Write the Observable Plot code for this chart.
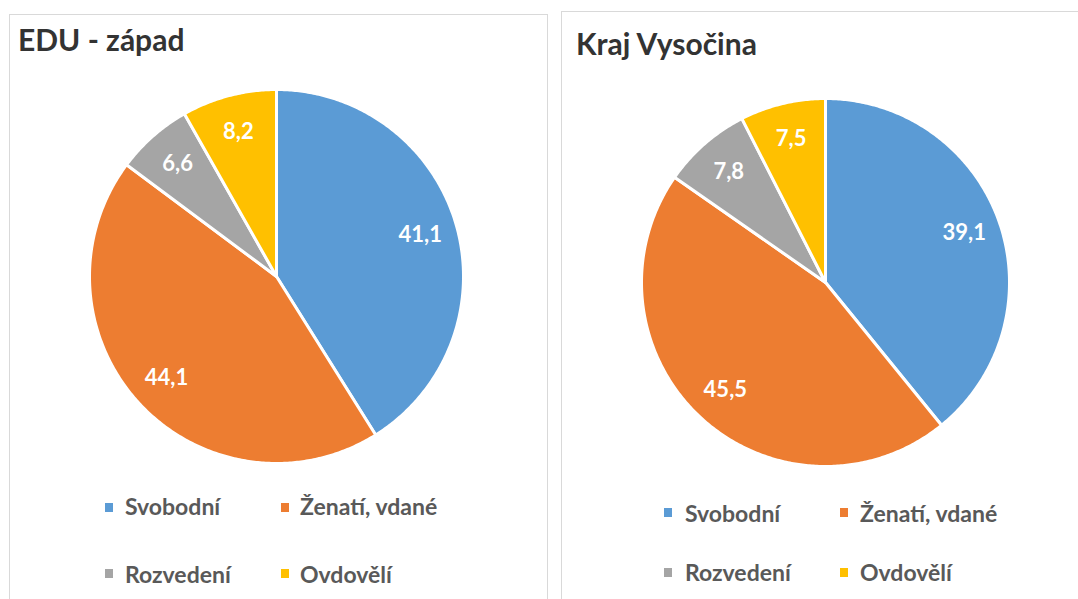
<!DOCTYPE html>
<html>
<head>
<meta charset="utf-8">
<script src="https://cdn.jsdelivr.net/npm/d3@7"></script>
<script src="https://cdn.jsdelivr.net/npm/@observablehq/plot@0.6"></script>
<style>
  html, body { margin: 0; padding: 0; background: #fff; }
  body { width: 1078px; height: 599px; position: relative; overflow: hidden; font-family: Lato, "Open Sans", sans-serif; }
  .panel { position: absolute; border: 1px solid #D9D9D9; background: #fff; }
  .title { position: absolute; font-weight: bold; font-size: 30px; color: #333; white-space: nowrap; line-height: 1; }
  .leg { position: absolute; font-weight: bold; font-size: 23px; color: #595959; white-space: nowrap; line-height: 1; }
  .sw { position: absolute; width: 8px; height: 9px; }
  .chart { position: absolute; }
</style>
</head>
<body>
<div class="panel" style="left:9px; top:14px; width:537px; height:620px;"></div>
<div class="panel" style="left:561px; top:11px; width:560px; height:620px;"></div>
<div id="root"></div>
<script>
const categories = ["Svobodní", "Ženatí, vdané", "Rozvedení", "Ovdovělí"];
const colors = ["#5B9BD5", "#ED7D31", "#A5A5A5", "#FFC000"];
const titles = ["EDU - západ", "Kraj Vysočina"];
const eduZapad = [41.1, 44.1, 6.6, 8.2];
const krajVysocina = [39.1, 45.5, 7.8, 7.5];

const panels = [
  {title: titles[0], values: eduZapad, svgLeft: 75.5, svgTop: 76, size: 400, titleLeft: 18, titleTop: 24,
   legend: {x1: 105, x2: 281, tx1: 125, tx2: 300, y1: 503, y2: 569, ty1: 495, ty2: 563}},
  {title: titles[1], values: krajVysocina, svgLeft: 627.5, svgTop: 85, size: 394, titleLeft: 576, titleTop: 28,
   legend: {x1: 664, x2: 840, tx1: 685, tx2: 860, y1: 508, y2: 568, ty1: 502, ty2: 561}}
];

const root = document.getElementById("root");

function slicePolys(values) {
  const arcs = d3.pie().sort(null).value(d => d)(values);
  const pts = [];
  const labels = [];
  arcs.forEach((a, i) => {
    const cat = categories[i];
    pts.push({cat, x: 0, y: 0});
    const n = Math.max(2, Math.ceil((a.endAngle - a.startAngle) / 0.01));
    for (let k = 0; k <= n; k++) {
      const t = a.startAngle + (a.endAngle - a.startAngle) * k / n;
      pts.push({cat, x: Math.sin(t), y: Math.cos(t)});
    }
    const m = (a.startAngle + a.endAngle) / 2;
    labels.push({cat, x: 0.8 * Math.sin(m), y: 0.8 * Math.cos(m), text: values[i].toFixed(1).replace(".", ",")});
  });
  return {pts, labels};
}

panels.forEach(p => {
  const {pts, labels} = slicePolys(p.values);
  const svg = Plot.plot({
    width: p.size, height: p.size, margin: 13,
    x: {domain: [-1, 1], axis: null},
    y: {domain: [-1, 1], axis: null},
    color: {domain: categories, range: colors},
    style: {background: "transparent", overflow: "visible"},
    marks: [
      Plot.line(pts, {x: "x", y: "y", z: "cat", fill: "cat", stroke: "white", strokeWidth: 3, curve: "linear-closed", strokeLinejoin: "round"}),
      Plot.text(labels, {x: "x", y: "y", text: "text", fill: "white", fontSize: 22, fontWeight: "bold", fontFamily: "Lato, 'Open Sans', sans-serif"})
    ]
  });
  const wrap = document.createElement("div");
  wrap.className = "chart";
  wrap.style.left = p.svgLeft + "px";
  wrap.style.top = p.svgTop + "px";
  wrap.appendChild(svg);
  root.appendChild(wrap);

  const t = document.createElement("div");
  t.className = "title";
  t.style.left = p.titleLeft + "px";
  t.style.top = p.titleTop + "px";
  t.textContent = p.title;
  root.appendChild(t);

  const L = p.legend;
  const items = [
    {sx: L.x1, sy: L.y1, tx: L.tx1, ty: L.ty1},
    {sx: L.x2, sy: L.y1, tx: L.tx2, ty: L.ty1},
    {sx: L.x1, sy: L.y2, tx: L.tx1, ty: L.ty2},
    {sx: L.x2, sy: L.y2, tx: L.tx2, ty: L.ty2}
  ];
  items.forEach((it, i) => {
    const s = document.createElement("div");
    s.className = "sw";
    s.style.left = it.sx + "px"; s.style.top = it.sy + "px";
    s.style.background = colors[i];
    root.appendChild(s);
    const l = document.createElement("div");
    l.className = "leg";
    l.style.left = it.tx + "px"; l.style.top = it.ty + "px";
    l.textContent = categories[i];
    root.appendChild(l);
  });
});
</script>
</body>
</html>
